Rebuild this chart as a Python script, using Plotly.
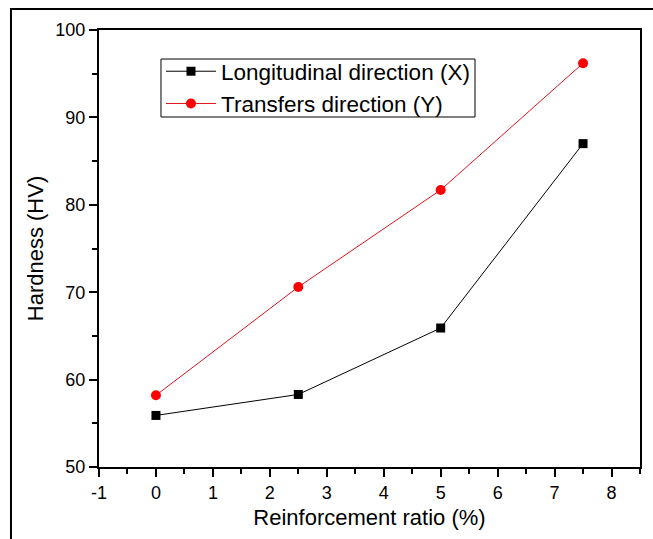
import plotly.graph_objects as go

ratio = [0, 2.5, 5, 7.5]
hardness_x = [55.9, 58.3, 65.9, 87.0]
hardness_y = [58.2, 70.6, 81.7, 96.2]

name_x = "Longitudinal direction (X)"
name_y = "Transfers direction (Y)"

x_ticks = [-1, 0, 1, 2, 3, 4, 5, 6, 7, 8]
x_labels = ["-1", "0", "1", "2", "3", "4", "5", "6", "7", "8"]
x_minor = [-0.5, 0.5, 1.5, 2.5, 3.5, 4.5, 5.5, 6.5, 7.5, 8.5]
y_ticks = [50, 60, 70, 80, 90, 100]
y_minor = [55, 65, 75, 85, 95]

FONT = "Liberation Sans, Arial, sans-serif"

fig = go.Figure()
fig.add_trace(go.Scatter(
    x=ratio, y=hardness_x, name=name_x, mode="lines+markers",
    line=dict(color="black", width=1),
    marker=dict(symbol="square", size=9, color="black"),
))
fig.add_trace(go.Scatter(
    x=ratio, y=hardness_y, name=name_y, mode="lines+markers",
    line=dict(color="#e0141e", width=1),
    marker=dict(symbol="circle", size=10, color="#ff0000"),
))

axis_common = dict(
    showline=True, linecolor="black", linewidth=2, mirror=True,
    ticks="outside", ticklen=8, tickwidth=2, tickcolor="black",
    showgrid=False, zeroline=False,
    tickfont=dict(family=FONT, size=18, color="black"),
)

fig.update_xaxes(
    range=[-1, 8.5], tickmode="array", tickvals=x_ticks, ticktext=x_labels,
    minor=dict(tickmode="array", tickvals=x_minor, ticks="outside",
               ticklen=5, tickwidth=2, tickcolor="black", showgrid=False),
    title=dict(text="Reinforcement ratio (%)", font=dict(family=FONT, size=22, color="black"), standoff=8),
    **axis_common,
)
fig.update_yaxes(
    range=[50, 100], tickmode="array", tickvals=y_ticks,
    minor=dict(tickmode="array", tickvals=y_minor, ticks="outside",
               ticklen=5, tickwidth=2, tickcolor="black", showgrid=False),
    title=dict(text="Hardness (HV)", font=dict(family=FONT, size=22, color="black"), standoff=6),
    **axis_common,
)

# outer frame around the figure
fig.add_shape(type="rect", xref="paper", yref="paper",
              x0=-0.1627, x1=1.2, y0=-0.3, y1=1.048,
              line=dict(color="black", width=2), layer="below")

# legend frame
fig.add_shape(type="rect", xref="paper", yref="paper",
              x0=0.1146, x1=0.695, y0=0.8009, y1=0.9336,
              line=dict(color="black", width=1), fillcolor="white", layer="above")

fig.update_layout(
    width=653, height=539,
    margin=dict(l=99, r=13, t=30, b=72),
    paper_bgcolor="white", plot_bgcolor="white",
    showlegend=True,
    legend=dict(
        x=0.1146, y=0.954, xanchor="left", yanchor="top",
        bgcolor="rgba(0,0,0,0)", borderwidth=0,
        font=dict(family=FONT, size=22.5, color="black"),
        tracegroupgap=0, itemwidth=50,
    ),
)

fig.write_html("out.html")
